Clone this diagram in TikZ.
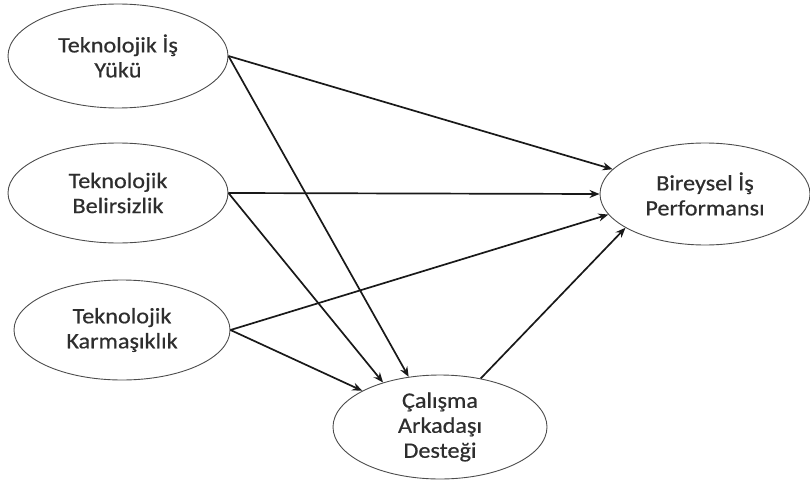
\documentclass[tikz,border=0pt]{standalone}
\usepackage{fontspec}
\setmainfont{Carlito}[FakeStretch=1.1,FakeBold=0.6]
\usetikzlibrary{shapes.geometric,arrows.meta}
\begin{document}
\begin{tikzpicture}[x=1pt,y=-1pt,
  var/.style={ellipse,draw=black!70,line width=0.9pt,inner sep=0pt,
    font=\fontsize{22pt}{25pt}\selectfont,text=black!82,align=center},
  arr/.style={line width=1.7pt,draw=black!90,-{Stealth[length=10pt,width=8pt]}}]
\useasboundingbox (0,0) rectangle (810,484);
\node[var,minimum width=220pt,minimum height=104pt] (yuk) at (118,56) {Teknolojik İş\\Yükü};
\node[var,minimum width=220pt,minimum height=100pt] (bel) at (118,193) {Teknolojik\\Belirsizlik};
\node[var,minimum width=216pt,minimum height=100pt] (kar) at (122,330) {Teknolojik\\Karmaşıklık};
\node[var,minimum width=210pt,minimum height=102pt] (per) at (705,194) {Bireysel İş\\Performansı};
\node[var,minimum width=214pt,minimum height=104pt] (des) at (440,427) {Çalışma\\Arkadaşı\\Desteği};
\draw[arr] (yuk.east) -- (per.165);
\draw[arr] (yuk.east) -- (des.122);
\draw[arr] (bel.east) -- (per.west);
\draw[arr] (bel.east) -- (des.142);
\draw[arr] (kar.east) -- (per.192);
\draw[arr] (kar.east) -- (des.155);
\draw[arr] (des.50) -- (per.203);
\end{tikzpicture}
\end{document}
